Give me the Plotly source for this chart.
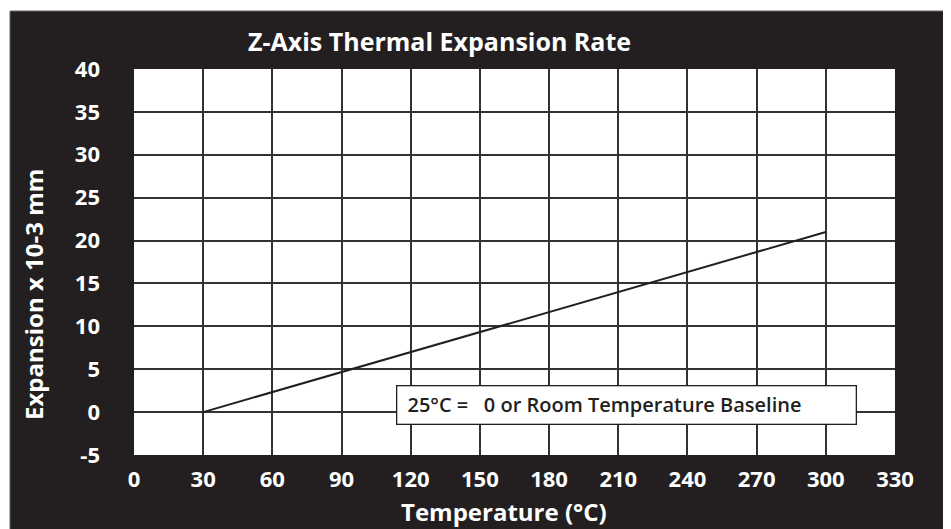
import plotly.graph_objects as go

temperature = [30, 300]
expansion = [0, 21]
x_ticks = [0, 30, 60, 90, 120, 150, 180, 210, 240, 270, 300, 330]
y_ticks = [-5, 0, 5, 10, 15, 20, 25, 30, 35, 40]

title_text = "Z-Axis Thermal Expansion Rate"
x_title = "Temperature (°C)"
y_title = "Expansion x 10-3 mm"
note_text = "25°C =   0 or Room Temperature Baseline"

DARK = "#231f20"
FONT = "Open Sans"

fig = go.Figure()
fig.add_trace(go.Scatter(x=temperature, y=expansion, mode="lines",
                         line=dict(color=DARK, width=2), showlegend=False,
                         hoverinfo="skip"))

# page body has an 8px margin; work in reference pixel coordinates and shift
OFF = 8
W, H = 951 - OFF, 529 - OFF
L, R, T, B = 134 - OFF, 951 - 895, 69 - OFF, 529 - 455
pw, ph = W - L - R, H - T - B

def px_x(p):
    return (p - OFF - L) / pw

def px_y(p):
    return (H - B - (p - OFF)) / ph

fig.update_layout(
    width=W, height=H,
    margin=dict(l=L, r=R, t=T, b=B),
    paper_bgcolor="white",
    plot_bgcolor="white",
    font=dict(family=FONT, color="white"),
    shapes=[
        dict(type="rect", xref="paper", yref="paper", layer="below",
             x0=px_x(10), x1=px_x(946), y0=px_y(560), y1=px_y(11),
             fillcolor=DARK, line=dict(color="#666666", width=1)),
        dict(type="rect", xref="paper", yref="paper", layer="below",
             x0=0, x1=1, y0=0, y1=1, fillcolor="white", line=dict(width=0)),
    ],
    annotations=[
        dict(text="<b>" + title_text + "</b>", xref="paper", yref="paper",
             x=px_x(439), y=px_y(41), xanchor="center", yanchor="middle",
             showarrow=False,
             font=dict(size=25, color="white", family=FONT)),
        dict(text="<b>" + y_title + "</b>", xref="paper", yref="paper",
             x=px_x(33), y=px_y(295), xanchor="center", yanchor="middle",
             showarrow=False, textangle=-90,
             font=dict(size=24, color="white", family=FONT)),
        dict(text="<b>" + x_title + "</b>", xref="paper", yref="paper",
             x=px_x(504), y=px_y(511), xanchor="center", yanchor="middle",
             showarrow=False,
             font=dict(size=24, color="white", family=FONT)),
        dict(text="&nbsp;" + note_text, xref="x", yref="y", x=113.5, y=0.78,
             xanchor="left", yanchor="middle", showarrow=False, align="left",
             bgcolor="white", bordercolor=DARK, borderwidth=1.3,
             borderpad=5, width=448,
             font=dict(size=20, color=DARK, family=FONT, weight=600)),
    ],
)

fig.update_xaxes(range=[0, 330], tickvals=x_ticks,
                 ticktext=["<b>%d</b>" % v for v in x_ticks],
                 showgrid=True, gridcolor="#333333", gridwidth=1.5,
                 zeroline=False, showline=False, ticks="",
                 ticklabelstandoff=9,
                 tickfont=dict(size=22, color="white", family=FONT))
fig.update_yaxes(range=[-5, 40], tickvals=y_ticks,
                 ticktext=["<b>%d</b>" % v for v in y_ticks],
                 showgrid=True, gridcolor="#333333", gridwidth=1.5,
                 zeroline=False, showline=False, ticks="",
                 ticklabelstandoff=33,
                 tickfont=dict(size=22, color="white", family=FONT))

fig.write_html("out.html")
